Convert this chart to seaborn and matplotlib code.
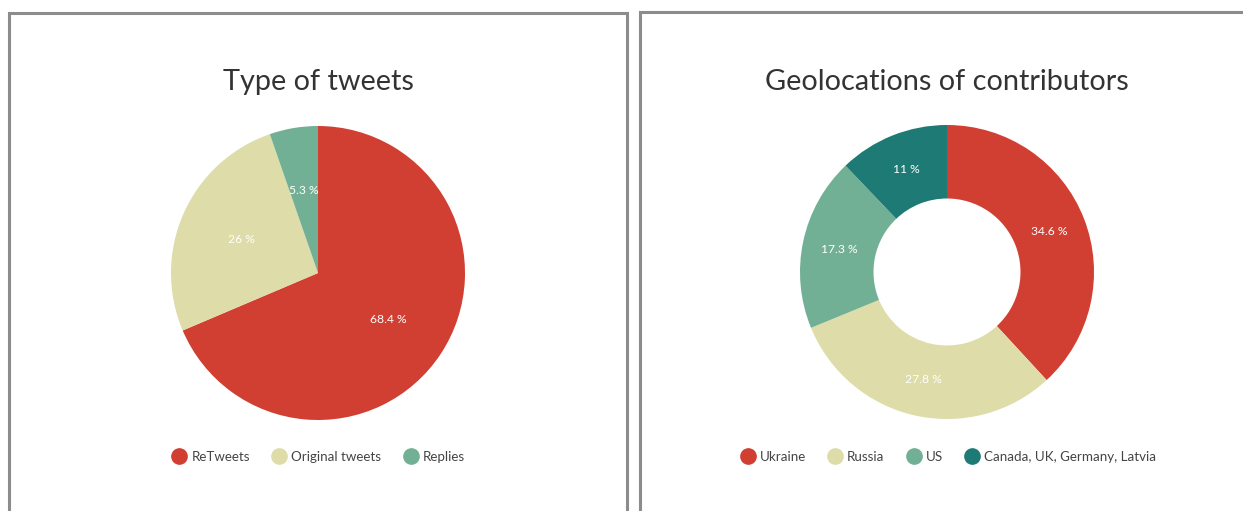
import matplotlib
matplotlib.use("Agg")
import matplotlib.pyplot as plt
from matplotlib.lines import Line2D
from matplotlib.patches import Rectangle
import seaborn as sns

sns.set_theme(style="white")
plt.rcParams['font.family'] = ['Lato', 'DejaVu Sans']

# data
tweet_types = ['ReTweets', 'Original tweets', 'Replies']
tweet_share = [68.4, 26, 5.3]
geo_names = ['Ukraine', 'Russia', 'US', 'Canada, UK, Germany, Latvia']
geo_share = [34.6, 27.8, 17.3, 11]

palette = sns.color_palette(['#D13F32', '#DEDCA8', '#72B095', '#1D7A74'])

W, H = 1243, 511
fig = plt.figure(figsize=(W / 100, H / 100), dpi=100)
fig.patch.set_facecolor('white')

# panel frames
fig.patches.append(Rectangle((9 / W, -0.05), 618 / W, 1.05 - 13 / H, transform=fig.transFigure,
                             fill=False, edgecolor='#8c8c8c', linewidth=2.2))
fig.patches.append(Rectangle((640 / W, -0.05), 0.6, 1.05 - 12 / H, transform=fig.transFigure,
                             fill=False, edgecolor='#8c8c8c', linewidth=2.2))


def pie_axes(cx, cy, r):
    return fig.add_axes([(cx - r) / W, (H - cy - r) / H, 2 * r / W, 2 * r / H])


def value_labels(values):
    it = iter(values)
    return lambda pct: f"{next(it):g} %"


# left: type of tweets
ax1 = pie_axes(318, 273, 147)
ax1.pie(tweet_share, colors=palette[:3], startangle=90, counterclock=False,
        autopct=value_labels(tweet_share), pctdistance=0.57,
        wedgeprops=dict(linewidth=0),
        textprops=dict(color='white', fontsize=8.7))
ax1.set_xlim(-1, 1)
ax1.set_ylim(-1, 1)
fig.text(318 / W, 1 - 82 / H, 'Type of tweets', ha='center', va='center',
         fontsize=20.8, color='#333333')

# right: geolocations
ax2 = pie_axes(947, 272, 147)
ax2.pie(geo_share, colors=palette, startangle=90, counterclock=False,
        autopct=value_labels(geo_share), pctdistance=0.75,
        wedgeprops=dict(width=0.5, linewidth=0),
        textprops=dict(color='white', fontsize=8.7))
ax2.set_xlim(-1, 1)
ax2.set_ylim(-1, 1)
fig.text(947 / W, 1 - 82 / H, 'Geolocations of contributors', ha='center', va='center',
         fontsize=20.8, color='#333333')


def legend(names, colors, cx):
    handles = [Line2D([], [], marker='o', linestyle='', markersize=11,
                      markerfacecolor=c, markeredgecolor=c) for c in colors]
    fig.legend(handles, names, loc='center', bbox_to_anchor=(cx / W, 1 - 457 / H),
               ncol=len(names), frameon=False, fontsize=9.6, handletextpad=0.3,
               columnspacing=1.6, labelcolor='#444444', handlelength=1.2)


legend(tweet_types, palette[:3], 318)
legend(geo_names, palette, 948)

fig.savefig('out.png', dpi=100, facecolor='white')
